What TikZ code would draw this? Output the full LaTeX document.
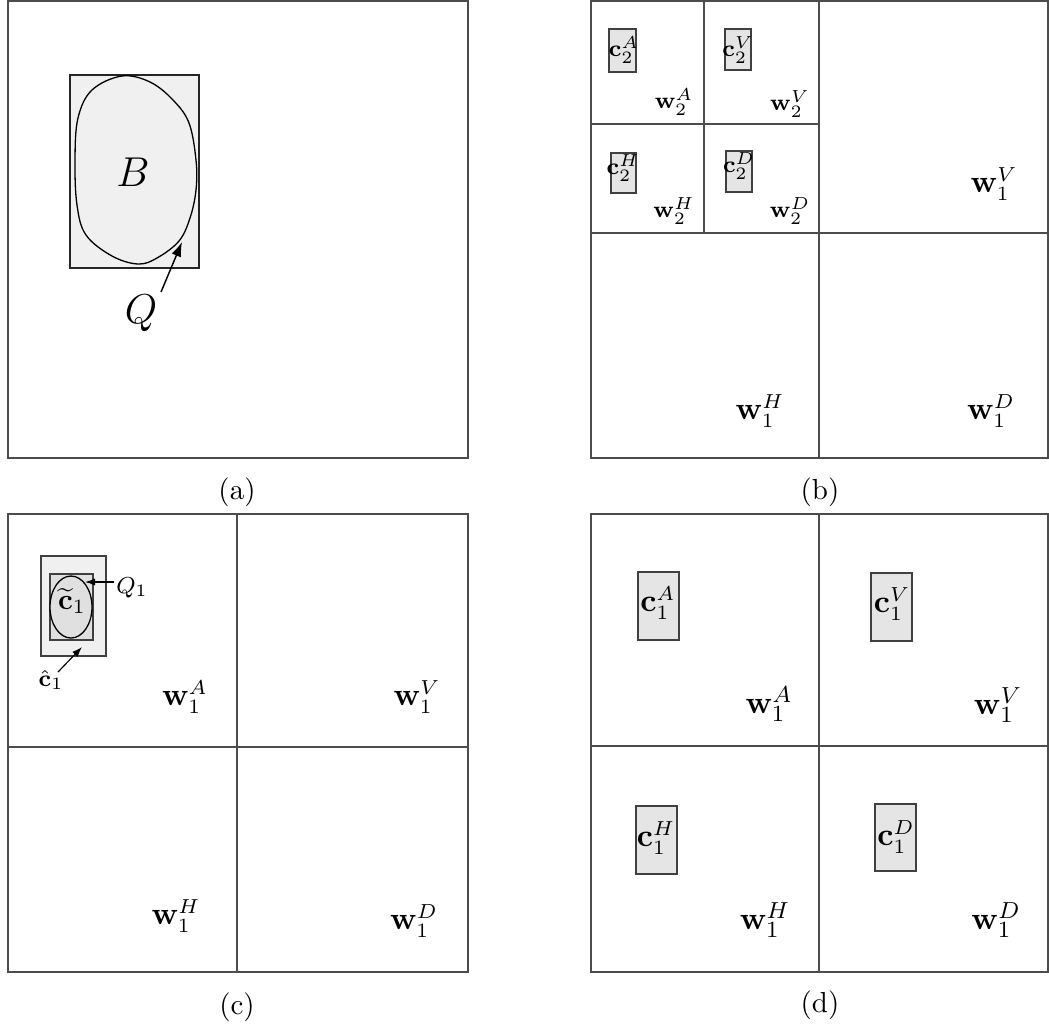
\documentclass[tikz,border=0pt]{standalone}
\usetikzlibrary{arrows.meta}
\begin{document}
\begin{tikzpicture}[x=0.345pt,y=-0.345pt,
  frame/.style={draw=black!70,line width=0.55pt},
  divider/.style={draw=black!70,line width=0.45pt},
  boxfill/.style={draw=black!85,line width=0.55pt,fill=black!6},
  cbox/.style={draw=black!75,line width=0.45pt,fill=black!10},
  lbl/.style={inner sep=0pt},
  ptr/.style={-{Latex[length=5pt,width=3.5pt]},line width=0.5pt},
  ptrs/.style={-{Latex[length=3.5pt,width=2.5pt]},line width=0.4pt}]
\useasboundingbox (0,0) rectangle (1049,1028);

% ---------------- (a) ----------------
\draw[frame] (8,1) rectangle (468,458);
\draw[boxfill] (70,75) rectangle (199,268);
\draw[line width=0.45pt,fill=black!6] plot[smooth cycle,tension=0.6] coordinates
  {(122,76) (150,82) (173,100) (189,123) (196,160) (196,190) (190,218) (179,241)
   (157,258) (138,264) (112,256) (86,235) (77,205) (75,160) (78,118) (92,90)};
\node[lbl,font=\fontsize{15}{17}\selectfont] (B) at (133,172) {$B$};
\node[lbl,font=\fontsize{15}{17}\selectfont] (Q) at (141,313) {$Q$};
\coordinate (Qtip) at (182,242);
\coordinate (Qstart) at (161,292);
\draw[ptr] (Qstart) -- (Qtip);
\node[lbl] (capa) at (237,492) {(a)};

% ---------------- (b) ----------------
\draw[frame] (591,1) rectangle (1048,458);
\draw[divider] (819,1) -- (819,458);
\draw[divider] (591,233) -- (1048,233);
\draw[divider] (704,1) -- (704,233);
\draw[divider] (591,124) -- (819,124);
\draw[cbox] (609,29) rectangle (636,72);
\draw[cbox] (725,29) rectangle (751,70);
\draw[cbox] (611,153) rectangle (636,193);
\draw[cbox] (726,151) rectangle (752,192);
\begin{scope}[font=\fontsize{8.5}{10}\selectfont]
\node[lbl] (c2A) at (624,50) {$\mathbf{c}_2^A$};
\node[lbl] (c2V) at (738,50) {$\mathbf{c}_2^V$};
\node[lbl] (c2H) at (623,168) {$\mathbf{c}_2^H$};
\node[lbl] (c2D) at (739,166) {$\mathbf{c}_2^D$};
\end{scope}
\begin{scope}[font=\fontsize{8}{10}\selectfont]
\node[lbl] (w2A) at (674,102) {$\mathbf{w}_2^A$};
\node[lbl] (w2V) at (790,104) {$\mathbf{w}_2^V$};
\node[lbl] (w2H) at (674,211) {$\mathbf{w}_2^H$};
\node[lbl] (w2D) at (790,211) {$\mathbf{w}_2^D$};
\end{scope}
\begin{scope}[font=\fontsize{10.5}{12}\selectfont]
\node[lbl] (bw1V) at (994,184) {$\mathbf{w}_1^V$};
\node[lbl] (bw1H) at (760,411) {$\mathbf{w}_1^H$};
\node[lbl] (bw1D) at (991,411) {$\mathbf{w}_1^D$};
\end{scope}
\node[lbl] (capb) at (820,492) {(b)};

% ---------------- (c) ----------------
\draw[frame] (8,514) rectangle (468,972);
\draw[divider] (237,514) -- (237,972);
\draw[divider] (8,747) -- (468,747);
\draw[line width=0.45pt,draw=black!75,fill=black!6] (41,556) rectangle (106,656);
\draw[line width=0.45pt,draw=black!75,fill=black!12] (50,574) rectangle (93,640);
\draw[line width=0.45pt,fill=black!12] (71,607) ellipse [x radius=21,y radius=31];
\node[lbl,font=\fontsize{10}{12}\selectfont] (ct) at (72,601) {$\widetilde{\mathbf{c}}_1$};
\node[lbl,font=\fontsize{8}{10}\selectfont] (Q1) at (132,588) {$Q_1$};
\coordinate (Q1tip) at (85,582);
\coordinate (Q1start) at (114,582);
\draw[ptrs] (Q1start) -- (Q1tip);
\node[lbl,font=\fontsize{8}{10}\selectfont] (chat) at (51,680) {$\hat{\mathbf{c}}_1$};
\coordinate (chtip) at (82,647);
\coordinate (chstart) at (58,672);
\draw[ptrs] (chstart) -- (chtip);
\begin{scope}[font=\fontsize{10.5}{12}\selectfont]
\node[lbl] (cw1A) at (185,697) {$\mathbf{w}_1^A$};
\node[lbl] (cw1V) at (417,697) {$\mathbf{w}_1^V$};
\node[lbl] (cw1H) at (176,916) {$\mathbf{w}_1^H$};
\node[lbl] (cw1D) at (414,921) {$\mathbf{w}_1^D$};
\end{scope}
\node[lbl] (capc) at (237,1007) {(c)};

% ---------------- (d) ----------------
\draw[frame] (591,514) rectangle (1048,972);
\draw[divider] (819,514) -- (819,972);
\draw[divider] (591,746) -- (1048,746);
\draw[cbox] (638,572) rectangle (679,640);
\draw[cbox] (871,573) rectangle (912,641);
\draw[cbox] (636,806) rectangle (677,874);
\draw[cbox] (875,804) rectangle (916,871);
\begin{scope}[font=\fontsize{10.5}{12}\selectfont]
\node[lbl] (dc1A) at (658,603) {$\mathbf{c}_1^A$};
\node[lbl] (dc1V) at (892,604) {$\mathbf{c}_1^V$};
\node[lbl] (dc1H) at (656,838) {$\mathbf{c}_1^H$};
\node[lbl] (dc1D) at (896,837) {$\mathbf{c}_1^D$};
\end{scope}
\begin{scope}[font=\fontsize{11}{13}\selectfont]
\node[lbl] (dw1A) at (769,704) {$\mathbf{w}_1^A$};
\node[lbl] (dw1V) at (998,705) {$\mathbf{w}_1^V$};
\node[lbl] (dw1H) at (765,920) {$\mathbf{w}_1^H$};
\node[lbl] (dw1D) at (996,920) {$\mathbf{w}_1^D$};
\end{scope}
\node[lbl] (capd) at (820,1005) {(d)};
\end{tikzpicture}
\end{document}
